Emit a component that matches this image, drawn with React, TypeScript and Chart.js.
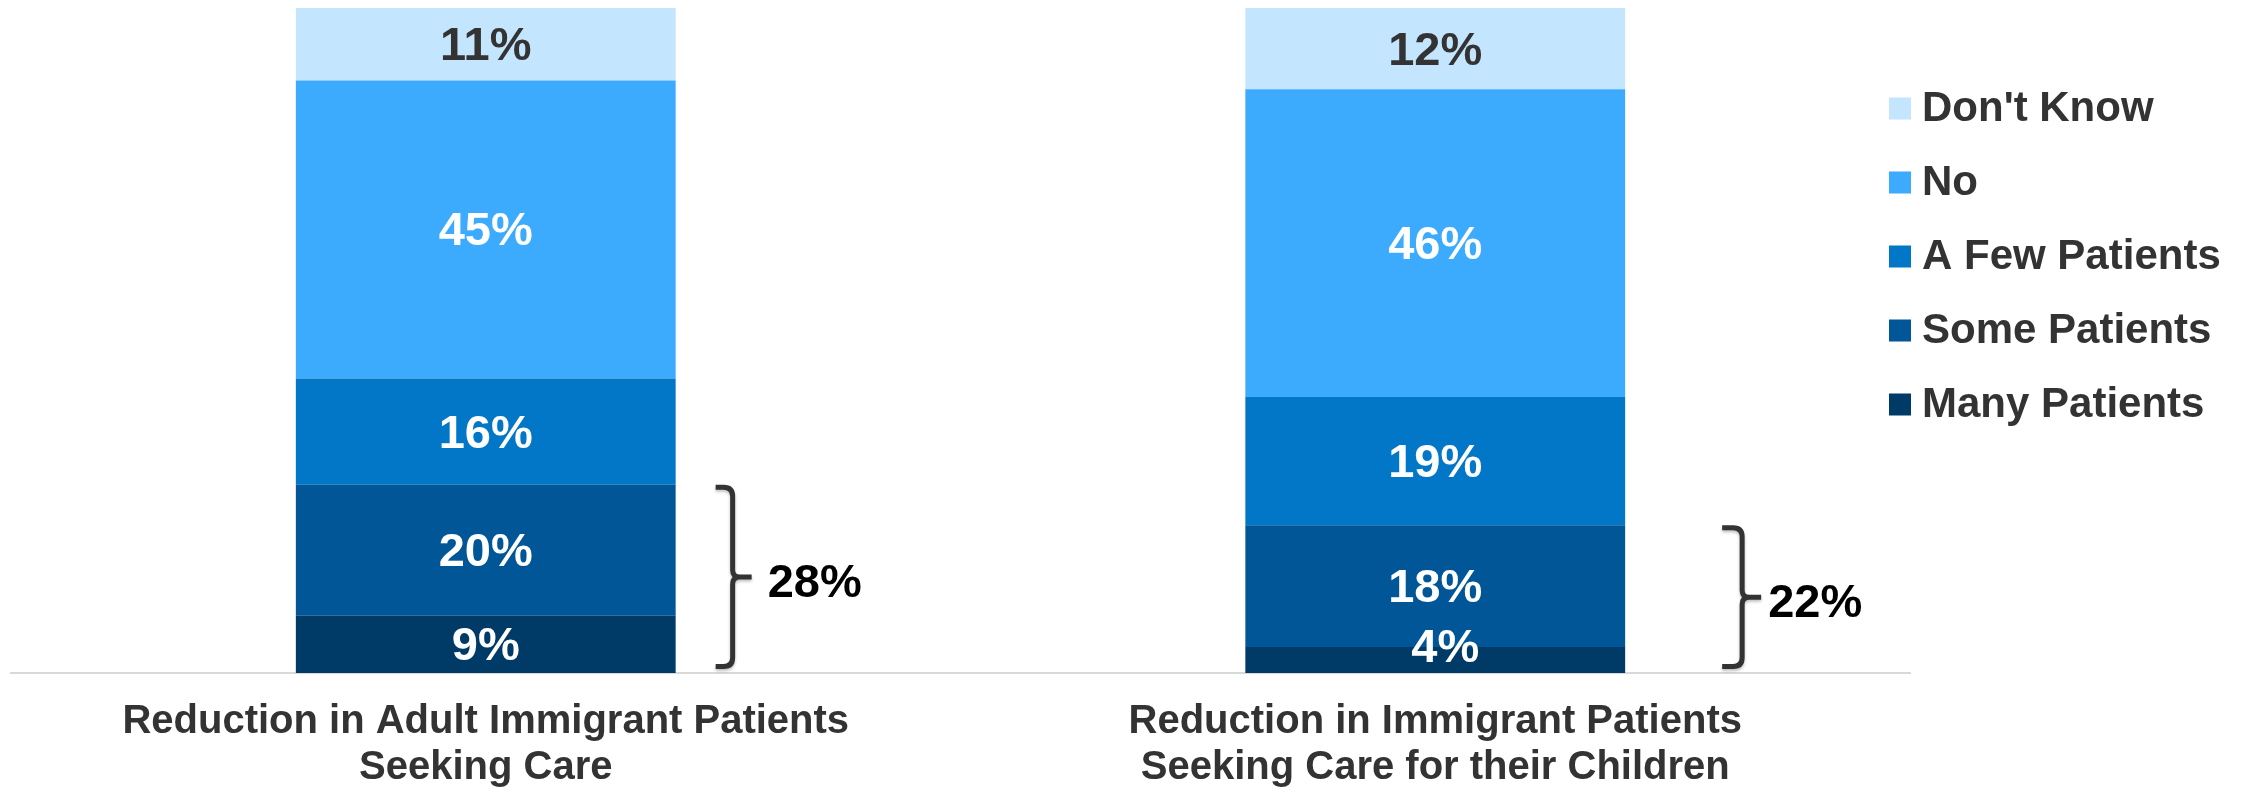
import React, { useEffect, useRef } from "react";
import { Chart, registerables } from "chart.js";
Chart.register(...registerables);

const FONT = '"Liberation Sans", Arial, Helvetica, sans-serif';

const categories = [
  ["Reduction in Adult Immigrant Patients", "Seeking Care"],
  ["Reduction in Immigrant Patients", "Seeking Care for their Children"],
];
const seriesNames = ["Many Patients", "Some Patients", "A Few Patients", "No", "Don't Know"];
const manyPatients = [8.6, 3.9];
const somePatients = [19.7, 18.3];
const aFewPatients = [16.0, 19.3];
const noValues = [44.8, 46.3];
const dontKnow = [10.9, 12.2];
const bracketLabels = ["28%", "22%"];
const seriesColors = ["#003A66", "#005696", "#0277C8", "#3CAAFD", "#C3E5FE"];

// styling (pixel offsets for bracket shapes and legend)
const bracketArmOffset = [40, 97];
const bracketArmWidth = [17, 20];
const bracketTextGap = [35, 26];
const legendX = 1889;
const legendTopY = 109.5;
const legendPitch = 74;
const xAxisHeight = 116;

const overlayPlugin = {
  id: "overlay",
  afterDatasetsDraw(chart: any) {
    const ctx = chart.ctx as CanvasRenderingContext2D;
    ctx.save();
    // segment labels
    ctx.font = `bold 47px ${FONT}`;
    ctx.textAlign = "center";
    ctx.textBaseline = "middle";
    chart.data.datasets.forEach((ds: any, di: number) => {
      const meta = chart.getDatasetMeta(di);
      meta.data.forEach((bar: any, i: number) => {
        const v = ds.data[i];
        const { x, y, base } = bar.getProps(["x", "y", "base"], true);
        const h = base - y;
        let tx = x;
        let ty = (y + base) / 2 + 3;
        if (h < 40) {
          ty = y + 2;
          tx = x + 10;
        }
        ctx.fillStyle = di === 4 ? "#333333" : "#ffffff";
        ctx.fillText(Math.round(v) + "%", tx, ty);
      });
    });

    // brackets
    const m0 = chart.getDatasetMeta(0);
    const m1 = chart.getDatasetMeta(1);
    m0.data.forEach((bar0: any, i: number) => {
      const p0 = bar0.getProps(["x", "y", "base", "width"], true);
      const p1 = m1.data[i].getProps(["y"], true);
      const top = p1.y + 2.5;
      const bottom = p0.base - 6.5;
      const barRight = p0.x + p0.width / 2;
      const ax = barRight + bracketArmOffset[i];
      const vx = ax + bracketArmWidth[i];
      const mid = (top + bottom) / 2;
      const tip = vx + 19;
      const r = 9;
      ctx.save();
      ctx.strokeStyle = "#333333";
      ctx.lineWidth = 5;
      ctx.lineJoin = "round";
      ctx.shadowColor = "rgba(0,0,0,0.25)";
      ctx.shadowBlur = 3;
      ctx.shadowOffsetY = 2;
      ctx.beginPath();
      ctx.moveTo(ax, top);
      ctx.lineTo(vx - r, top);
      ctx.quadraticCurveTo(vx, top, vx, top + r);
      ctx.lineTo(vx, mid - 7);
      ctx.quadraticCurveTo(vx, mid, vx + 7, mid);
      ctx.lineTo(tip, mid);
      ctx.moveTo(vx + 7, mid);
      ctx.quadraticCurveTo(vx, mid, vx, mid + 7);
      ctx.lineTo(vx, bottom - r);
      ctx.quadraticCurveTo(vx, bottom, vx - r, bottom);
      ctx.lineTo(ax, bottom);
      ctx.stroke();
      ctx.restore();

      ctx.font = `bold 47px ${FONT}`;
      ctx.textAlign = "left";
      ctx.textBaseline = "middle";
      ctx.fillStyle = "#000000";
      ctx.fillText(bracketLabels[i], vx + bracketTextGap[i], mid + 7);
    });

    // legend (top: last dataset)
    ctx.font = `bold 42px ${FONT}`;
    ctx.textAlign = "left";
    ctx.textBaseline = "middle";
    const n = chart.data.datasets.length;
    for (let k = 0; k < n; k++) {
      const ds = chart.data.datasets[n - 1 - k];
      const cy = legendTopY + k * legendPitch;
      ctx.fillStyle = ds.backgroundColor;
      ctx.fillRect(legendX, cy - 12, 22, 22);
      ctx.fillStyle = "#333333";
      ctx.fillText(ds.label, legendX + 33, cy);
    }
    ctx.restore();
  },
};

export default function App() {
  const ref = useRef<HTMLCanvasElement>(null);
  useEffect(() => {
    if (!ref.current) return;
    const seriesData = [manyPatients, somePatients, aFewPatients, noValues, dontKnow];
    const chart = new Chart(ref.current, {
      type: "bar",
      data: {
        labels: categories,
        datasets: seriesNames.map((name, i) => ({
          label: name,
          data: seriesData[i],
          backgroundColor: seriesColors[i],
          borderWidth: 0,
          categoryPercentage: 1,
          barPercentage: 0.4,
        })),
      },
      options: {
        animation: false,
        responsive: false,
        maintainAspectRatio: false,
        layout: { padding: { left: 11, right: 339, top: 8, bottom: 0 } },
        plugins: { legend: { display: false }, tooltip: { enabled: false } },
        scales: {
          x: {
            stacked: true,
            grid: { display: false, drawTicks: false },
            border: { display: true, color: "#d9d9d9", width: 2 },
            ticks: {
              color: "#333333",
              font: { family: FONT, size: 40, weight: "bold", lineHeight: 46 / 40 },
              padding: 26,
              maxRotation: 0,
              autoSkip: false,
            },
            afterFit: (scale: any) => {
              scale.height = xAxisHeight;
            },
          },
          y: { stacked: true, display: false, min: 0, max: 100 },
        },
      },
      plugins: [overlayPlugin],
    } as any);
    return () => chart.destroy();
  }, []);
  return (
    <div style={{ position: "absolute", left: 0, top: 0, width: 2249, height: 789, background: "#fff" }}>
      <canvas ref={ref} width={2249} height={789} style={{ display: "block" }} />
    </div>
  );
}
